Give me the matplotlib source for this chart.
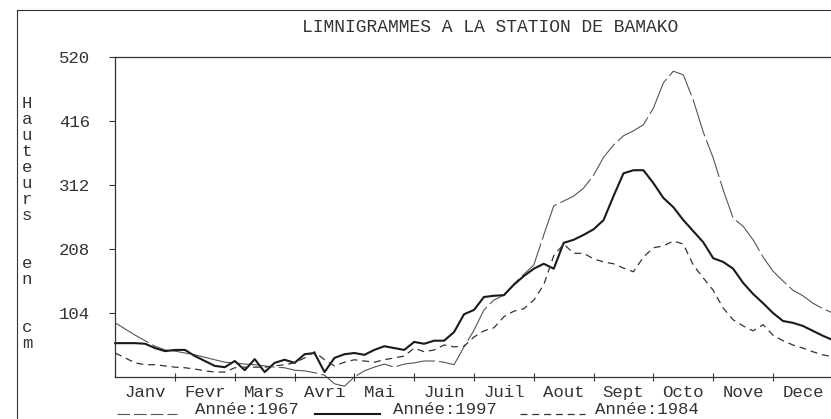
import numpy as np
import matplotlib
matplotlib.use("Agg")
import matplotlib.pyplot as plt
from matplotlib.lines import Line2D

# Hauteurs (cm) by pentad, 6 per month, Janv 1 -> Dec 31
h1967 = [88, 78, 68, 59, 50, 44, 42, 39, 36, 32, 28, 24,
         23, 21, 20, 18, 16, 15, 11, 10, 7, 3, -11, -15,
         0, 10, 16, 21, 16, 21, 23, 26, 26, 24, 20, 49,
         76, 109, 125, 133, 151, 167, 182, 231, 278, 286, 294, 307,
         328, 357, 377, 392, 400, 410, 437, 478, 497, 491, 450, 398,
         356, 304, 258, 245, 223, 195, 172, 156, 141, 132, 120, 111, 104]
h1997 = [55, 55, 55, 54, 47, 42, 44, 44, 34, 26, 18, 16,
         26, 11, 29, 8, 23, 28, 23, 37, 39, 8, 31, 37,
         39, 36, 44, 50, 47, 44, 57, 54, 59, 59, 73, 102,
         109, 130, 132, 133, 150, 164, 176, 184, 176, 218, 223, 231,
         240, 255, 294, 331, 336, 336, 315, 291, 276, 255, 237, 219,
         193, 187, 176, 153, 135, 120, 104, 91, 88, 83, 75, 67, 60]
h1984 = [39, 31, 23, 20, 20, 18, 16, 15, 13, 10, 8, 8,
         15, 16, 16, 16, 18, 20, 23, 31, 41, 28, 18, 24,
         28, 26, 24, 28, 31, 34, 47, 41, 44, 52, 49, 50,
         65, 75, 80, 98, 107, 111, 125, 150, 197, 216, 201, 201,
         192, 187, 184, 177, 171, 195, 210, 213, 221, 216, 182, 161,
         141, 112, 93, 83, 75, 85, 68, 59, 52, 47, 41, 36, 33]

months = ["Janv", "Fevr", "Mars", "Avri", "Mai ", "Juin", "Juil",
          "Aout", "Sept", "Octo", "Nove", "Dece"]
yticks = [104, 208, 312, 416, 520]
ylabel = "Hauteurs  en  cm"

plt.rcParams["lines.scale_dashes"] = False
mono = "Liberation Mono"

W, H = 831, 419
fig = plt.figure(figsize=(W / 100, H / 100), dpi=100)

# outer frame (left and top edges visible)
fig.add_artist(Line2D([17 / W, 17 / W], [0, 1 - 10 / H], color="#333333", lw=0.8))
fig.add_artist(Line2D([17 / W, 1], [1 - 10 / H, 1 - 10 / H], color="#333333", lw=0.8))

ax = fig.add_axes([115.2 / W, 42 / H, 717.6 / W, 320 / H])
x = np.arange(len(h1997)) / 6.0

ax.plot(x, h1967, color="#555555", lw=0.8, dashes=(28, 3), clip_on=False)
ax.plot(x, h1997, color="#1a1a1a", lw=1.5, clip_on=False)
ax.plot(x, h1984, color="#333333", lw=0.9, dashes=(5, 3.5), clip_on=False)

ax.set_xlim(0, 12)
ax.set_ylim(0, 520)
for s in ["top", "left", "bottom"]:
    ax.spines[s].set_color("#333333")
    ax.spines[s].set_linewidth(0.9)
ax.spines["right"].set_visible(False)

ax.set_yticks(yticks)
ax.set_yticklabels([str(v) for v in yticks], fontfamily=mono, fontsize=12.5, color="#333333")
ax.tick_params(axis="y", direction="out", length=4, width=0.8, pad=14, color="#333333")

ax.set_xticks(np.arange(1, 12))
ax.set_xticklabels([])
ax.tick_params(axis="x", which="major", direction="inout", length=6, width=0.8, color="#333333")
ax.set_xticks(np.arange(12) + 0.5, minor=True)
ax.set_xticklabels(months, minor=True, fontfamily=mono, fontsize=12.5, color="#333333")
ax.tick_params(axis="x", which="minor", length=0, pad=6)

fig.text(490 / W, 1 - 27 / H, "LIMNIGRAMMES A LA STATION DE BAMAKO",
         fontfamily=mono, fontsize=13, ha="center", va="center", color="#333333")

# vertical stacked y label
for k, ch in enumerate(ylabel):
    if ch != " ":
        fig.text(27 / W, 1 - (103 + 16 * k) / H, ch, fontfamily=mono, fontsize=12.5,
                 ha="center", va="center", color="#333333")

# legend along the bottom
legend = [("Année:1967", 117, 177, 195, dict(color="#555555", lw=0.8, dashes=(9, 3))),
          ("Année:1997", 315, 380, 393, dict(color="#1a1a1a", lw=1.5)),
          ("Année:1984", 520, 585, 595, dict(color="#333333", lw=0.9, dashes=(5, 3.5)))]
for label, x0, x1, xt, style in legend:
    fig.add_artist(Line2D([x0 / W, x1 / W], [1 - 414 / H, 1 - 414 / H], **style))
    fig.text(xt / W, 1 - 409 / H, label, fontfamily=mono, fontsize=12.5,
             ha="left", va="center", color="#333333")

fig.savefig("out.png", dpi=100)
